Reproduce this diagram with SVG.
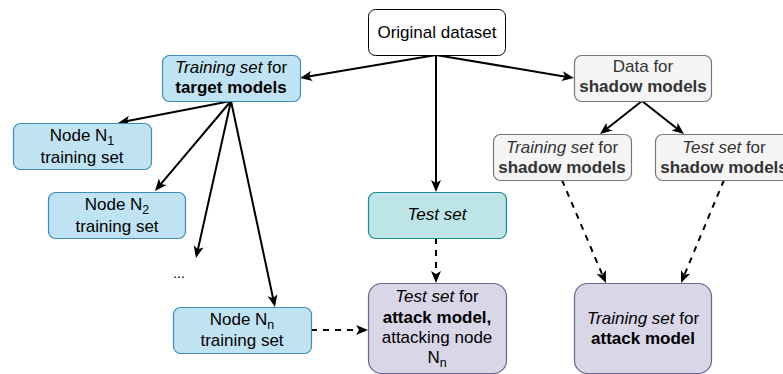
<svg xmlns="http://www.w3.org/2000/svg" width="783" height="374" viewBox="0 0 783 374">
<defs>
<marker id="ah" markerUnits="userSpaceOnUse" markerWidth="12" markerHeight="10" refX="5" refY="5" orient="auto" overflow="visible">
<path d="M0,0 L12,5 L0,10 L3,5 Z" fill="#000"/>
</marker>
</defs>
<style>
text{font-family:"Liberation Sans",Arial,sans-serif;font-size:17px;fill:#000;text-anchor:middle}
.i{font-style:italic}
.b{font-weight:bold}
.sub{font-size:12.5px}
.white{fill:#fff;stroke:#000;stroke-width:1}
.blue{fill:#c0e3f3;stroke:#3d8db6;stroke-width:1.2}
.teal{fill:#bde5e8;stroke:#1c8b91;stroke-width:1.2}
.purple{fill:#d9d6e8;stroke:#6a6690;stroke-width:1.2}
.gray{fill:#f5f5f5;stroke:#777;stroke-width:1.2}
.gt{fill:#333}
.e{fill:none;stroke:#000;stroke-width:2;marker-end:url(#ah)}
.d{stroke-dasharray:6 6}
</style>
<g id="connectors">
<line class="e" x1="436" y1="55" x2="306.9" y2="76.8"/>
<line class="e" x1="436" y1="55" x2="436" y2="185"/>
<line class="e" x1="436" y1="55" x2="567.1" y2="76.9"/>
<line class="e" x1="231" y1="101" x2="124.9" y2="121.6"/>
<line class="e" x1="231" y1="101" x2="159.5" y2="185.6"/>
<line class="e" x1="231" y1="101" x2="197.5" y2="251.2"/>
<line class="e" x1="231" y1="101" x2="273.5" y2="300.2"/>
<line class="e" x1="642" y1="101" x2="605.5" y2="129.7"/>
<line class="e" x1="642" y1="101" x2="678.5" y2="129.7"/>
<line class="e d" x1="562" y1="180" x2="603.2" y2="276.6"/>
<line class="e d" x1="724" y1="180" x2="683.7" y2="276.5"/>
<line class="e d" x1="311" y1="330" x2="361" y2="330"/>
<line class="e d" x1="436" y1="238" x2="436" y2="276"/>
</g>
<g id="original">
<rect class="white" x="368.5" y="9.5" width="137" height="46" rx="7"/>
<text x="437" y="38">Original dataset</text>
</g>
<g id="train-target">
<rect class="blue" x="162.5" y="55.5" width="138" height="46" rx="7"/>
<text x="231" y="73"><tspan class="i">Training set</tspan> for</text>
<text x="231" y="93" class="b">target models</text>
</g>
<g id="data-shadow">
<rect class="gray" x="574.5" y="55.5" width="137" height="46" rx="7"/>
<text x="643" y="72" class="gt">Data for</text>
<text x="643" y="92" class="gt b">shadow models</text>
</g>
<g id="train-shadow">
<rect class="gray" x="493.5" y="134.5" width="138" height="46" rx="7"/>
<text x="562" y="153" class="gt"><tspan class="i">Training set</tspan> for</text>
<text x="562" y="173" class="gt b">shadow models</text>
</g>
<g id="test-shadow">
<rect class="gray" x="655.5" y="134.5" width="138" height="46" rx="7"/>
<text x="724" y="153" class="gt"><tspan class="i">Test set</tspan> for</text>
<text x="724" y="173" class="gt b">shadow models</text>
</g>
<g id="node1">
<rect class="blue" x="13.5" y="123.5" width="138" height="46" rx="7"/>
<text x="82" y="141">Node N<tspan class="sub" dy="4">1</tspan></text>
<text x="82" y="163">training set</text>
</g>
<g id="node2">
<rect class="blue" x="48.5" y="192.5" width="137" height="46" rx="7"/>
<text x="117" y="210">Node N<tspan class="sub" dy="4">2</tspan></text>
<text x="117" y="232">training set</text>
</g>
<g id="dots">
<text x="179" y="278" style="font-size:14px">...</text>
</g>
<g id="noden">
<rect class="blue" x="173.5" y="307.5" width="138" height="46" rx="7"/>
<text x="242" y="325">Node N<tspan class="sub" dy="4">n</tspan></text>
<text x="242" y="346">training set</text>
</g>
<g id="test-set">
<rect class="teal" x="368.5" y="192.5" width="138" height="46" rx="7"/>
<text x="437" y="220" class="i">Test set</text>
</g>
<g id="test-attack">
<rect class="purple" x="368.5" y="283.5" width="138" height="90" rx="13"/>
<text x="437" y="302"><tspan class="i">Test set</tspan> for</text>
<text x="437" y="323" class="b">attack model,</text>
<text x="437" y="343">attacking node</text>
<text x="437" y="363">N<tspan class="sub" dy="4">n</tspan></text>
</g>
<g id="train-attack">
<rect class="purple" x="574.5" y="283.5" width="137" height="90" rx="13"/>
<text x="643" y="324"><tspan class="i">Training set</tspan> for</text>
<text x="643" y="344" class="b">attack model</text>
</g>
</svg>
